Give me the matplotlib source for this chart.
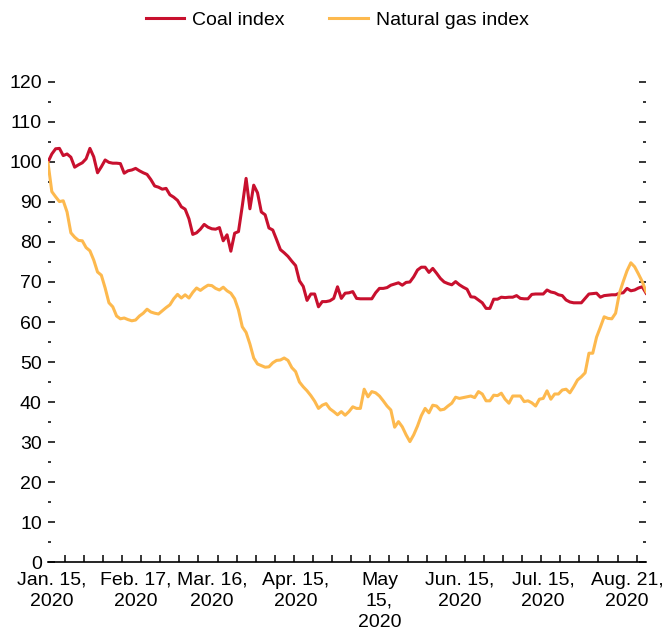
import numpy as np
import pandas as pd
import matplotlib
matplotlib.use("Agg")
import matplotlib.pyplot as plt
from matplotlib.ticker import MultipleLocator, FixedLocator
from matplotlib.transforms import ScaledTranslation

plt.rcParams["font.family"] = ["Liberation Sans Narrow", "Liberation Sans", "DejaVu Sans"]

# trading days, Jan 15 - Aug 21 2020
dates = pd.bdate_range("2020-01-15", "2020-08-21")

coal = [
    100.0, 102.0, 103.3, 103.4, 101.6, 102.0, 101.2, 98.7, 99.3, 99.8,
    100.8, 103.4, 101.3, 97.3, 98.8, 100.5, 99.9, 99.7, 99.7, 99.6,
    97.2, 97.8, 98.0, 98.4, 97.8, 97.3, 96.9, 95.6, 94.0, 93.7,
    93.2, 93.4, 91.8, 91.2, 90.4, 88.8, 88.2, 85.8, 81.9, 82.3,
    83.2, 84.4, 83.7, 83.3, 83.2, 83.6, 80.3, 81.8, 77.7, 82.2,
    82.6, 89.0, 95.9, 88.3, 94.2, 92.3, 87.5, 86.8, 83.5, 83.0,
    80.6, 78.1, 77.3, 76.4, 75.2, 74.1, 70.3, 68.9, 65.4, 67.0,
    67.0, 63.8, 65.1, 65.1, 65.3, 65.9, 68.8, 65.9, 67.2, 67.3,
    67.6, 65.9, 65.8, 65.8, 65.8, 65.8, 67.3, 68.4, 68.4, 68.6,
    69.2, 69.5, 69.8, 69.2, 69.9, 70.0, 71.3, 73.0, 73.7, 73.7,
    72.4, 73.4, 72.2, 70.9, 70.0, 69.6, 69.3, 70.1, 69.3, 68.7,
    68.2, 66.3, 66.2, 65.5, 64.8, 63.4, 63.4, 65.7, 65.7, 66.2,
    66.1, 66.2, 66.2, 66.6, 65.9, 65.8, 65.8, 66.9, 67.0, 67.0,
    67.0, 68.0, 67.5, 67.3, 66.8, 66.6, 65.5, 65.0, 64.8, 64.8,
    64.8, 65.9, 67.0, 67.1, 67.2, 66.2, 66.6, 66.7, 66.8, 66.8,
    67.2, 67.3, 68.4, 67.8, 68.0, 68.5, 68.8, 67.2,
]

gas = [
    99.8, 92.6, 91.3, 90.1, 90.3, 87.5, 82.3, 81.2, 80.4, 80.3,
    78.6, 77.8, 75.5, 72.5, 71.7, 68.5, 64.8, 63.8, 61.5, 60.8,
    61.0, 60.6, 60.3, 60.5, 61.5, 62.2, 63.2, 62.5, 62.2, 62.0,
    62.8, 63.6, 64.3, 65.8, 66.9, 66.0, 66.8, 66.0, 67.4, 68.5,
    67.9, 68.6, 69.2, 69.1, 68.4, 68.0, 68.7, 67.8, 67.2, 65.8,
    63.0, 58.8, 57.4, 54.5, 51.0, 49.5, 49.1, 48.7, 48.8, 49.8,
    50.4, 50.5, 51.0, 50.4, 48.6, 47.6, 45.0, 43.8, 42.8, 41.6,
    40.2, 38.4, 39.2, 39.6, 38.3, 37.6, 36.8, 37.6, 36.7, 37.6,
    38.8, 38.4, 38.4, 43.2, 41.3, 42.6, 42.3, 41.5, 40.3, 39.0,
    38.0, 33.7, 35.1, 33.8, 31.8, 30.1, 31.8, 34.0, 36.6, 38.4,
    37.3, 39.2, 39.0, 38.0, 38.2, 39.0, 39.7, 41.2, 40.9, 41.1,
    41.3, 41.5, 41.1, 42.6, 42.0, 40.3, 40.3, 41.7, 41.6, 42.2,
    40.7, 39.7, 41.5, 41.5, 41.5, 40.1, 40.3, 39.8, 39.0, 40.7,
    40.9, 42.8, 40.7, 42.0, 42.0, 43.0, 43.2, 42.3, 43.8, 45.5,
    46.3, 47.3, 52.2, 52.2, 56.2, 58.7, 61.3, 60.9, 60.8, 62.2,
    67.2, 70.1, 72.8, 74.8, 73.8, 72.0, 70.1, 67.6,
]

label_dates = ["2020-01-15", "2020-02-17", "2020-03-16", "2020-04-15",
               "2020-05-15", "2020-06-15", "2020-07-15", "2020-08-21"]
label_text = ["Jan. 15,\n2020", "Feb. 17,\n2020", "Mar. 16,\n2020", "Apr. 15,\n2020",
              "May\n15,\n2020", "Jun. 15,\n2020", "Jul. 15,\n2020", "Aug. 21,\n2020"]

x = np.arange(len(dates))

fig = plt.figure(figsize=(6.64, 6.37), dpi=100)
ax = fig.add_axes([0.0723, 0.1177, 0.9007, 0.7536])

ax.plot(x, coal, color="#C8102E", lw=2.2, label="Coal index")
ax.plot(x, gas, color="#FDB94E", lw=2.2, label="Natural gas index")

ax.set_xlim(0, len(dates) - 1)
ax.set_ylim(0, 120)

for s in ["top", "left", "right"]:
    ax.spines[s].set_visible(False)
ax.spines["bottom"].set_linewidth(1.2)

# y axis: labelled every 10, short ticks every 5, mirrored on the right
ax.yaxis.set_major_locator(MultipleLocator(10))
ax.yaxis.set_minor_locator(MultipleLocator(5))
ax.tick_params(axis="y", which="both", direction="in", left=True, right=True,
               width=1.1, labelsize=14, pad=4.5)
ax.tick_params(axis="y", which="major", length=5)
ax.tick_params(axis="y", which="minor", length=2.3)

# x axis: date labels, weekly tick marks
pos = dates.get_indexer(pd.to_datetime(label_dates))
ax.set_xticks(pos)
ax.set_xticklabels(label_text, linespacing=1.3)
ax.xaxis.set_minor_locator(FixedLocator(np.arange(4.5, len(dates) - 1, 5)))
ax.tick_params(axis="x", which="major", length=0, labelsize=14, pad=7)
ax.tick_params(axis="x", which="minor", direction="in", length=5, width=1.1)

tl = ax.get_xticklabels()
tl[0].set_transform(tl[0].get_transform() + ScaledTranslation(4 / 100, 0, fig.dpi_scale_trans))
tl[-1].set_transform(tl[-1].get_transform() + ScaledTranslation(-19 / 100, 0, fig.dpi_scale_trans))

fig.legend(loc="center", bbox_to_anchor=(0.508, 0.968), ncol=2, frameon=False,
           fontsize=14, handlelength=2.0, handletextpad=0.4, columnspacing=2.3)

fig.savefig("out.png", dpi=100)
